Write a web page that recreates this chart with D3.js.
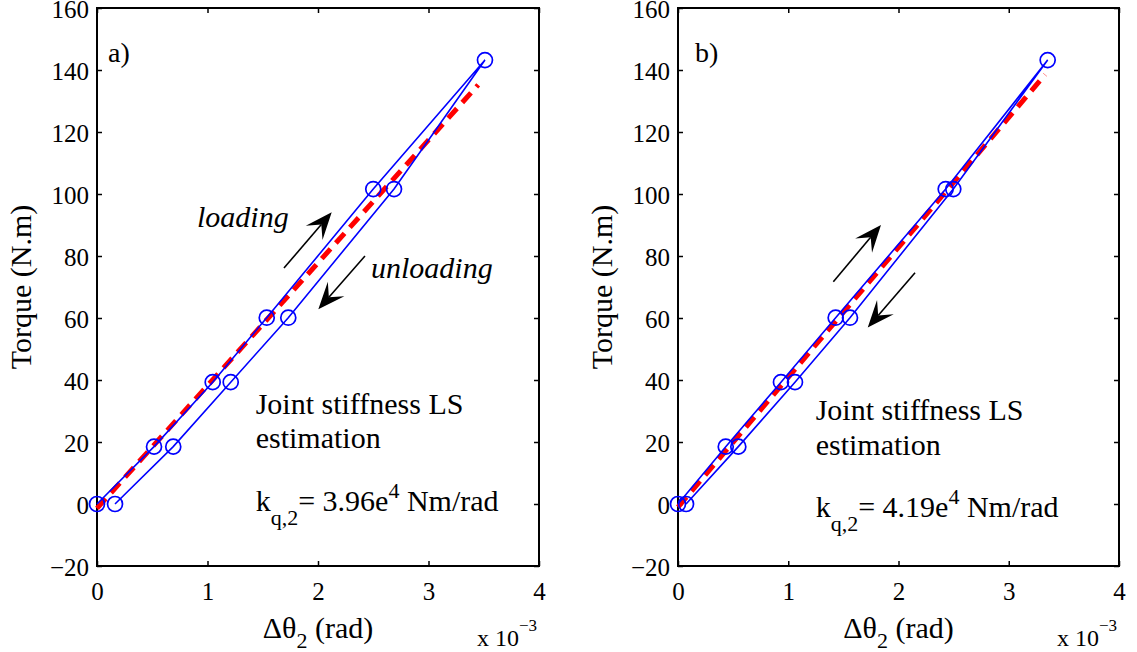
<!DOCTYPE html>
<html>
<head>
<meta charset="utf-8">
<script src="https://cdn.jsdelivr.net/npm/d3@7"></script>
<style>
  html, body { margin: 0; padding: 0; background: #fff; }
  svg { display: block; }
  svg text { font-family: "Liberation Serif", "Times New Roman", serif; }
</style>
</head>
<body>
<svg id="chart" width="1137" height="652"></svg>
<script>
// Axis ticks
const xTicks = [0, 1, 2, 3, 4];
const yTicks = [-20, 0, 20, 40, 60, 80, 100, 120, 140, 160];

// Torque steps applied during the test (N.m)
const torqueLevels = [0, 18.5, 39.3, 60.1, 101.6, 143.2];

// Measured joint deflection (x 10^-3 rad), panel a
const loadingA   = [0, 0.516, 1.047, 1.536, 2.500, 3.511];
const unloadingA = [0.163, 0.690, 1.210, 1.731, 2.688, 3.511];

// Measured joint deflection (x 10^-3 rad), panel b
const loadingB   = [0, 0.433, 0.934, 1.430, 2.428, 3.353];
const unloadingB = [0.073, 0.547, 1.061, 1.560, 2.497, 3.353];

// Least-squares stiffness estimates (Nm/rad), fit offsets (N.m) and fit range end (x 10^-3 rad)
const stiffness = [3.96e4, 4.19e4];
const fitOffset = [-1.4, -1.0];
const fitEnd = [3.45, 3.33];

const serif = "Liberation Serif, Times New Roman, serif";

const svg = d3.select("#chart");
svg.append("rect").attr("width", 1137).attr("height", 652).attr("fill", "#fff");

const panels = [
  { left: 97,  right: 539,  tag: "a)", tagX: 0.1, load: loadingA, unload: unloadingA, k: stiffness[0], b: fitOffset[0], xe: fitEnd[0],
    words: true,
    arrows: [[1.692, 76.1, 2.124, 94.1], [2.425, 80.0, 2.003, 62.8]],
    textX: 1.436, textY: [29.0, 18.0, -2.3] },
  { left: 678, right: 1119, tag: "b)", tagX: 0.154, load: loadingB, unload: unloadingB, k: stiffness[1], b: fitOffset[1], xe: fitEnd[1],
    words: false,
    arrows: [[1.409, 71.7, 1.841, 90.0], [2.150, 74.6, 1.721, 56.9]],
    textX: 1.249, textY: [27.1, 15.8, -4.2] }
];

const plotTop = 8, plotBottom = 566;

panels.forEach(p => {
  const x = d3.scaleLinear().domain([0, 4]).range([p.left, p.right]);
  const y = d3.scaleLinear().domain([-20, 160]).range([plotBottom, plotTop]);
  const g = svg.append("g").attr("font-family", serif);

  // axes with inward ticks on all four sides
  const tick = 5;
  const gx = g.append("g").attr("transform", `translate(0,${plotBottom})`)
    .call(d3.axisBottom(x).tickValues(xTicks).tickSizeInner(-tick).tickSizeOuter(0).tickPadding(0).tickFormat(d3.format("d")));
  gx.selectAll("text").attr("y", 34).attr("dy", 0);
  g.append("g").attr("transform", `translate(0,${plotTop})`)
    .call(d3.axisTop(x).tickValues(xTicks).tickSizeInner(-tick).tickSizeOuter(0).tickFormat(""));
  const gy = g.append("g").attr("transform", `translate(${p.left},0)`)
    .call(d3.axisLeft(y).tickValues(yTicks).tickSizeInner(-tick).tickSizeOuter(0).tickPadding(8)
      .tickFormat(d => d < 0 ? "\u2212" + Math.abs(d) : String(d)));
  gy.selectAll("text").attr("y", 9).attr("dy", 0);
  g.append("g").attr("transform", `translate(${p.right},0)`)
    .call(d3.axisRight(y).tickValues(yTicks).tickSizeInner(-tick).tickSizeOuter(0).tickFormat(""));

  g.selectAll(".domain").remove();
  g.selectAll("g").attr("font-family", serif);
  g.selectAll(".tick line").attr("stroke", "#000").attr("stroke-width", 1.5);
  g.selectAll(".tick text").attr("font-size", 25).attr("fill", "#000");

  g.append("rect")
    .attr("x", p.left).attr("y", plotTop)
    .attr("width", p.right - p.left).attr("height", plotBottom - plotTop)
    .attr("fill", "none").attr("stroke", "#000").attr("stroke-width", 2);

  // least-squares fit line
  const fitX = [0, p.xe];
  const fitLine = d3.line().x(d => x(d)).y(d => y(p.k * d * 1e-3 + p.b));
  g.append("path").attr("d", fitLine(fitX))
    .attr("fill", "none").attr("stroke", "#ff0000").attr("stroke-width", 5)
    .attr("stroke-dasharray", "13,8");

  // measured loading / unloading cycle
  const loadPts = p.load.map((d, i) => [d, torqueLevels[i]]);
  const unloadPts = p.unload.map((d, i) => [d, torqueLevels[i]]).reverse();
  const cycle = loadPts.concat(unloadPts.slice(1));
  g.append("path").attr("d", d3.line().x(d => x(d[0])).y(d => y(d[1]))(cycle))
    .attr("fill", "none").attr("stroke", "#0000ff").attr("stroke-width", 1.6);
  g.selectAll("circle.m").data(cycle).join("circle")
    .attr("class", "m")
    .attr("cx", d => x(d[0])).attr("cy", d => y(d[1])).attr("r", 7.5)
    .attr("fill", "none").attr("stroke", "#0000ff").attr("stroke-width", 1.7);

  // direction arrows
  p.arrows.forEach(a => {
    const x1 = x(a[0]), y1 = y(a[1]), x2 = x(a[2]), y2 = y(a[3]);
    const len = Math.hypot(x2 - x1, y2 - y1);
    const ux = (x2 - x1) / len, uy = (y2 - y1) / len;
    const nx = -uy, ny = ux;
    const L = 27, W = 11, N = 16;
    g.append("line").attr("x1", x1).attr("y1", y1)
      .attr("x2", x2 - N * ux).attr("y2", y2 - N * uy)
      .attr("stroke", "#000").attr("stroke-width", 1.6);
    g.append("path")
      .attr("d", `M${x2},${y2}L${x2 - L * ux + W * nx},${y2 - L * uy + W * ny}` +
                 `L${x2 - N * ux},${y2 - N * uy}L${x2 - L * ux - W * nx},${y2 - L * uy - W * ny}Z`)
      .attr("fill", "#000");
  });

  if (p.words) {
    g.append("text").attr("x", x(0.905)).attr("y", y(89.4))
      .attr("font-size", 30).attr("font-style", "italic").text("loading");
    g.append("text").attr("x", x(2.48)).attr("y", y(72.9))
      .attr("font-size", 30).attr("font-style", "italic").text("unloading");
  }

  // panel tag
  g.append("text").attr("x", x(p.tagX)).attr("y", y(142.6))
    .attr("font-size", 28).text(p.tag);

  // stiffness estimate
  g.append("text").attr("x", x(p.textX)).attr("y", y(p.textY[0])).attr("font-size", 30).text("Joint stiffness LS");
  g.append("text").attr("x", x(p.textX)).attr("y", y(p.textY[1])).attr("font-size", 30).text("estimation");
  const kt = g.append("text").attr("x", x(p.textX)).attr("y", y(p.textY[2])).attr("font-size", 30);
  kt.append("tspan").text("k");
  kt.append("tspan").attr("font-size", 22).attr("dy", 14).text("q,2");
  kt.append("tspan").attr("dy", -14).text("= " + (p.k / 1e4).toFixed(2) + "e");
  kt.append("tspan").attr("font-size", 22).attr("dy", -13).text("4");
  kt.append("tspan").attr("dy", 13).text(" Nm/rad");

  // axis labels
  const xl = g.append("text").attr("x", (p.left + p.right) / 2).attr("y", 638)
    .attr("text-anchor", "middle").attr("font-size", 30);
  xl.append("tspan").text("\u0394\u03b8");
  xl.append("tspan").attr("font-size", 22).attr("dy", 10).text("2");
  xl.append("tspan").attr("dy", -10).text(" (rad)");

  const ex = g.append("text").attr("x", p.right - 62).attr("y", 646).attr("font-size", 24);
  ex.append("tspan").text("x 10");
  ex.append("tspan").attr("font-size", 17).attr("dy", -15).text("\u22123");

  g.append("text")
    .attr("transform", `translate(${p.left - 66},${(plotTop + plotBottom) / 2}) rotate(-90)`)
    .attr("text-anchor", "middle").attr("font-size", 30).text("Torque (N.m)");
});
</script>
</body>
</html>
